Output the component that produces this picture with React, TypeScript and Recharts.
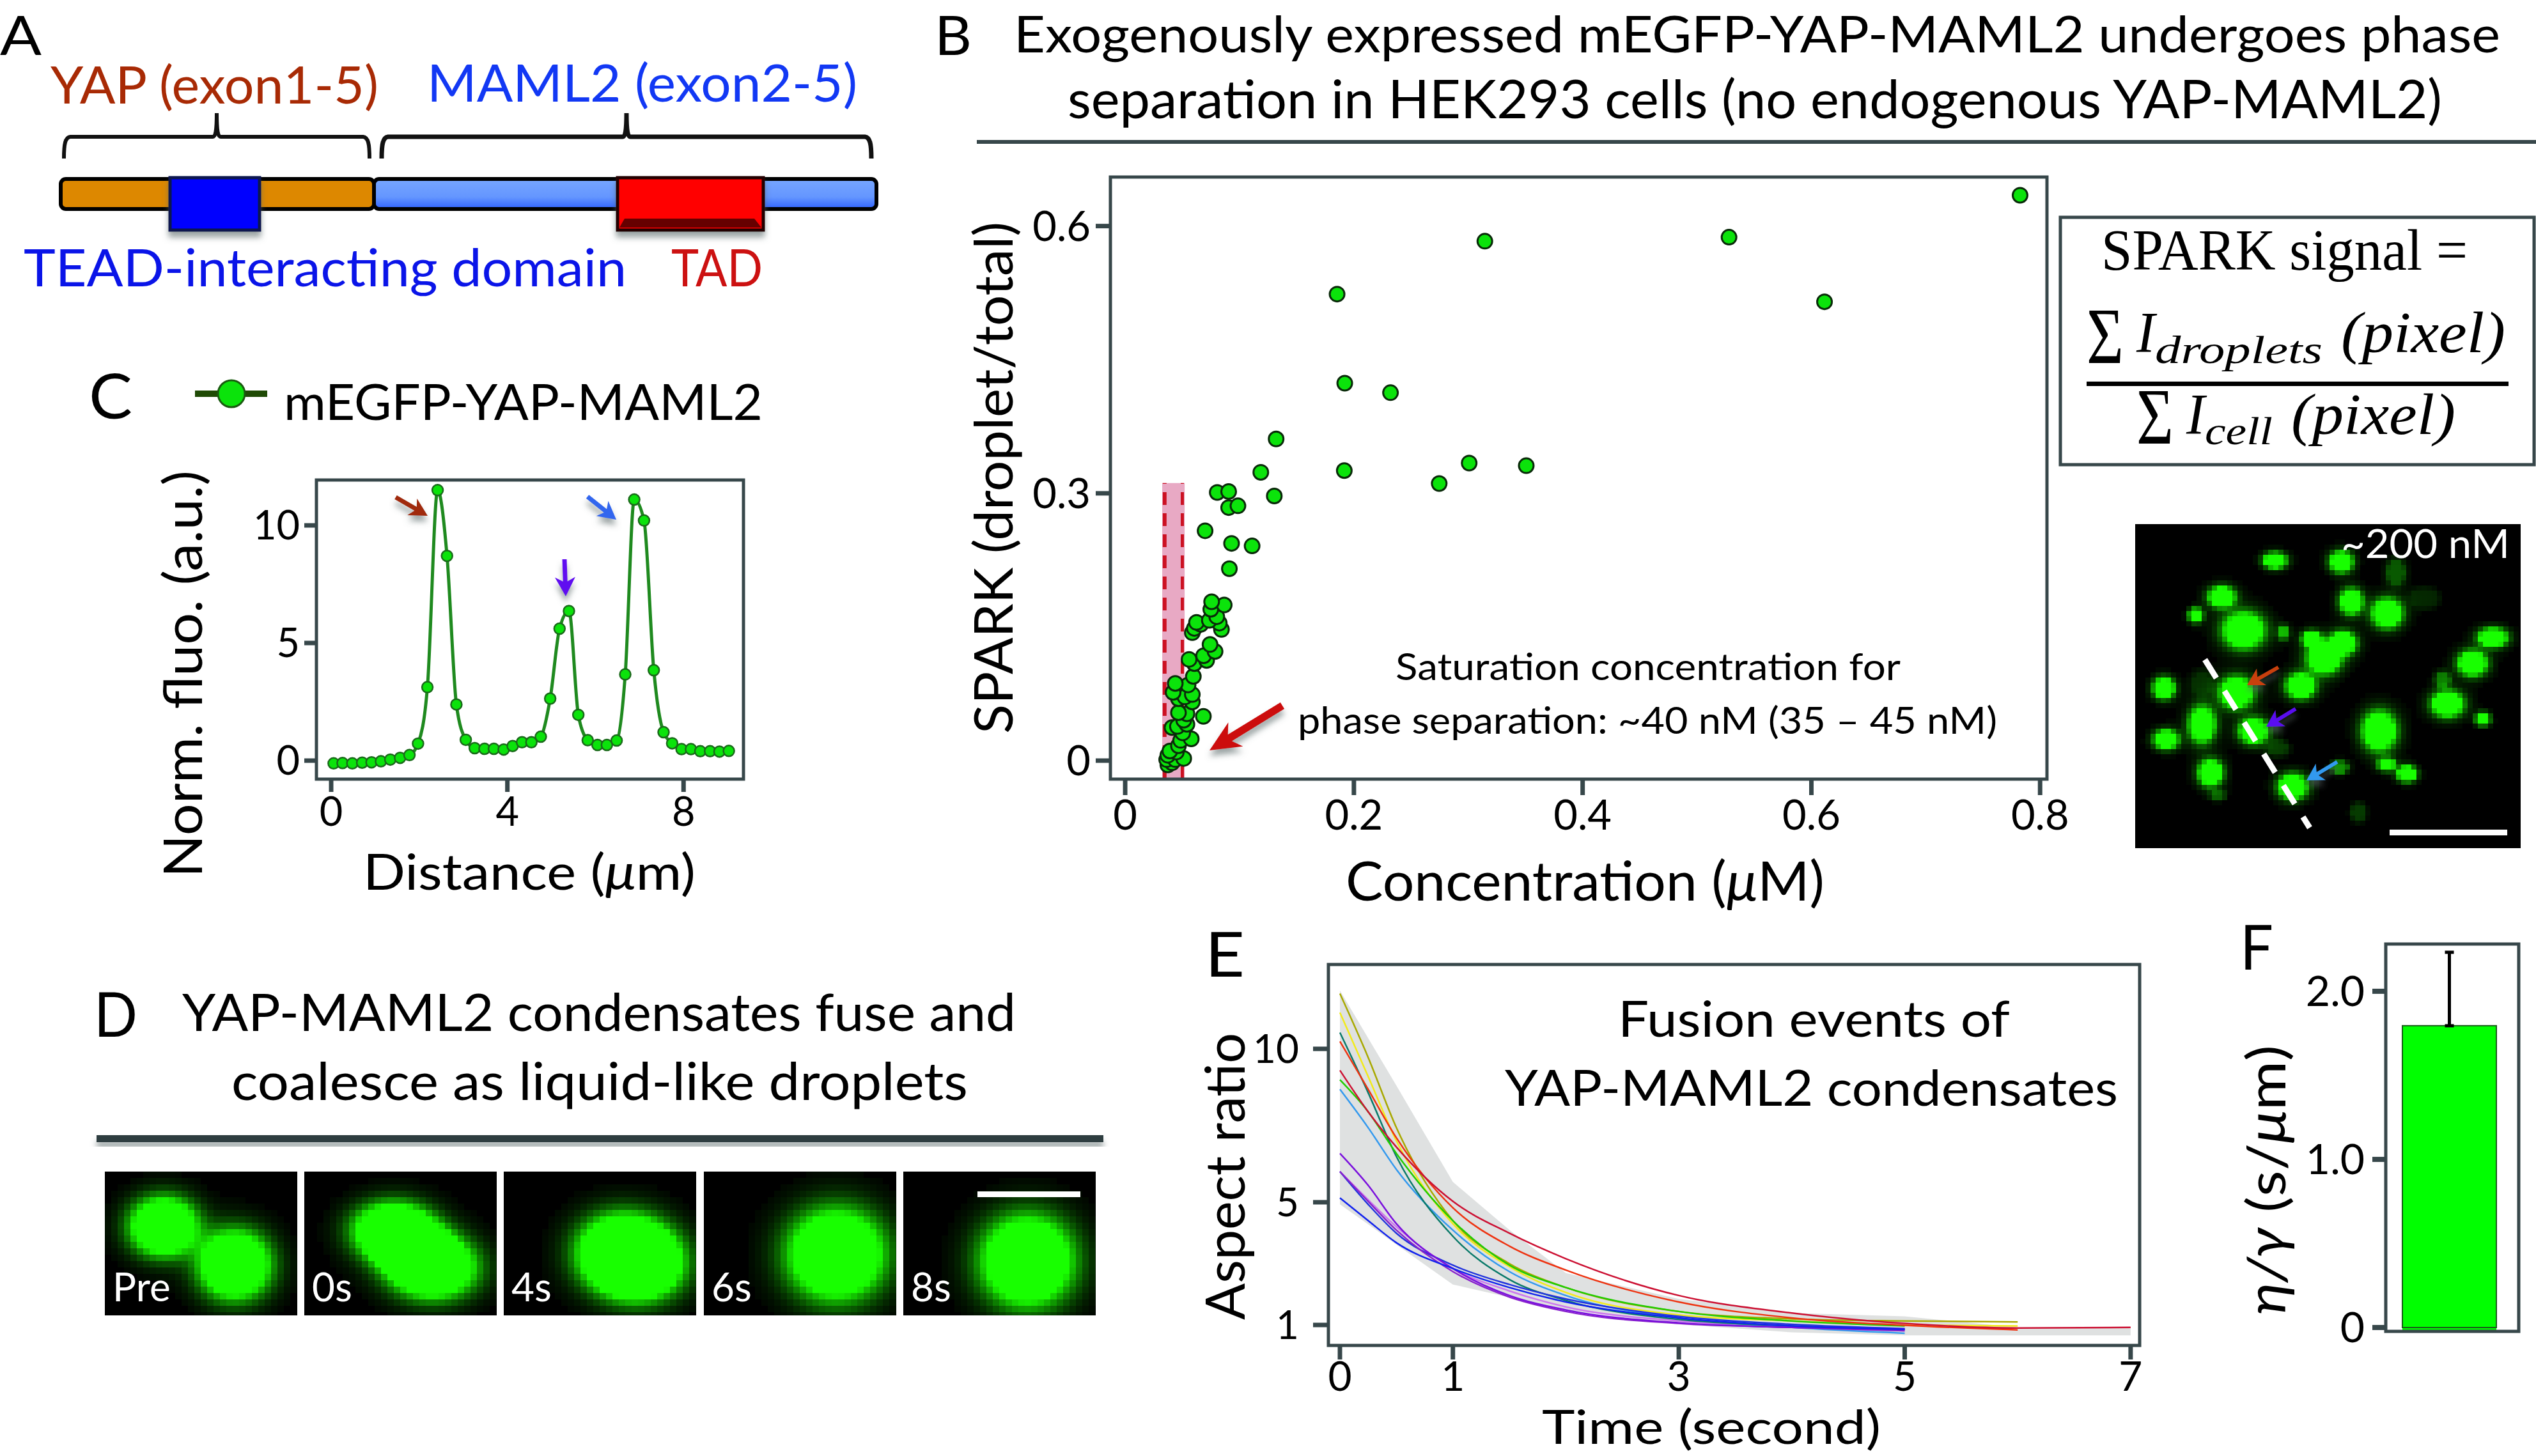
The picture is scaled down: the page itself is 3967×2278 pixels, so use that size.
import React from "react";
import {
  ScatterChart, Scatter, LineChart, Line, ComposedChart, Area, BarChart, Bar, ErrorBar,
  XAxis, YAxis, ReferenceArea, ReferenceLine,
} from "recharts";

// ---- Panel B data
const sparkConc = [0.7825,0.3145,0.528,0.6115,0.1853,0.192,0.232,0.132,0.1186,0.1916,0.1304,0.2746,0.3008,0.3507,0.0805,0.0905,0.0905,0.0986,0.0699,0.093,0.111,0.0911,
  0.0756,0.0866,0.0749,0.0801,0.0736,0.0823,0.0842,0.0624,0.0661,0.0605,0.0587,0.0742,0.0786,0.0686,0.0712,0.0559,0.0605,0.0596,0.055,0.0438,0.0587,0.0419,0.0587,0.0466,0.0522,0.0466,0.054,0.0684,0.0512,0.054,0.041,0.0457,0.0503,0.0578,0.0485,0.0391,0.0447,0.0512,0.0363,0.041,0.0373,0.0438,0.0466,0.0373];
const sparkSignal = [0.6346,0.583,0.5875,0.515,0.5236,0.4236,0.413,0.361,0.3236,0.3255,0.297,0.311,0.334,0.331,0.301,0.302,0.284,0.286,0.258,0.2438,0.241,0.2154,
  0.1783,0.1747,0.1699,0.1615,0.1574,0.1543,0.1472,0.1551,0.153,0.1484,0.1436,0.1304,0.1225,0.1177,0.1125,0.1136,0.1089,0.0945,0.0849,0.0866,0.0742,0.0766,0.0658,0.0694,0.0715,0.0538,0.0526,0.0497,0.0454,0.0407,0.0371,0.0383,0.0311,0.0244,0.0227,0.0108,0.0096,0.0024,0.0012,-0.0024,-0.0048,0.0012,0.0167,0.006];
const sparkXTicks = [0, 0.2, 0.4, 0.6, 0.8];
const sparkYTicks = [0, 0.3, 0.6];
const sparkTable = sparkConc.map((c, i) => ({ c, s: sparkSignal[i] })).sort((a, b) => a.s - b.s);

// ---- Panel C data
const distance = [0.056,0.259,0.481,0.704,0.917,1.13,1.343,1.565,1.778,1.972,2.185,2.417,2.63,2.843,3.056,3.259,3.481,3.694,3.917,4.12,4.333,4.546,4.759,4.972,5.185,5.398,5.611,5.824,6.046,6.259,6.481,6.676,6.88,7.102,7.324,7.546,7.741,7.954,8.167,8.38,8.602,8.815,9.028];
const fluo = [-0.118,-0.103,-0.118,-0.088,-0.074,-0.029,0.044,0.118,0.236,0.722,3.122,11.5,8.704,2.386,0.884,0.53,0.501,0.501,0.471,0.619,0.781,0.781,1.016,2.636,5.611,6.362,1.944,0.869,0.663,0.663,0.854,3.667,11.1,10.21,3.844,1.208,0.736,0.486,0.486,0.398,0.398,0.383,0.412];
const fluoTable = distance.map((d, i) => ({ d, f: fluo[i] }));

// ---- Panel E data
const fusionTime = [0,0.25,0.5,1,1.5,2,3,4,5,6,7];
const bandHigh = [11.9,10.35,8.8,5.66,4.1,2.69,1.85,1.39,1.28,0.92,0.92];
const bandLow = [4.93,4.28,3.62,2.32,1.9,1.49,1.02,0.76,0.66,0.66,0.66];
const curveRed = [9.3,7.95,6.8,5.03,3.99,3.16,1.96,1.39,1.05,0.9,0.92];
const curveOrange = [10.24,8.68,7.1,4.82,3.57,2.79,1.75,1.23,0.99,0.84];
const curveOlive = [11.8,9.72,7.43,4.4,3.0,2.22,1.44,1.2,1.13,1.1];
const curveYellow = [11.18,9.1,7.0,4.3,2.9,2.06,1.33,1.13,0.99,0.97];
const curveTeal = [10.53,8.57,6.49,3.89,2.48,1.8,1.18,0.97,0.86];
const curveGreen = [8.99,7.95,6.59,4.4,2.95,2.22,1.44,1.13,0.97];
const curveSky = [8.68,7.43,6.07,4.09,2.74,1.96,1.23,0.92,0.73];
const curvePink = [6.0,5.08,4.2,2.84,2.11,1.59,1.13,0.92,0.81];
const curvePurple = [6.59,5.55,4.3,2.84,1.96,1.49,1.07,0.92,0.86];
const curveViolet = [6.0,5.03,4.09,2.74,1.91,1.44,1.05,0.92,0.81];
const curveBlue = [5.14,4.4,3.68,2.84,2.22,1.75,1.23,0.97,0.86];
const curveRoyal = [6.0,4.93,3.99,2.95,2.32,1.85,1.28,1.02,0.88];
const fusionSeries: [string, number[], string][] = [
  ["pink", curvePink, "#cc77ee"], ["sky", curveSky, "#3399ee"], ["teal", curveTeal, "#0a7a6a"],
  ["yellow", curveYellow, "#f2ea1a"], ["olive", curveOlive, "#a8a800"], ["green", curveGreen, "#22cc00"],
  ["orange", curveOrange, "#ee3311"], ["red", curveRed, "#cc1133"], ["royal", curveRoyal, "#2233dd"],
  ["violet", curveViolet, "#8822cc"], ["purple", curvePurple, "#7a10dd"], ["blue", curveBlue, "#1122ee"],
];
const fusionTable = fusionTime.map((t, i) => {
  const row: Record<string, unknown> = { t, band: [bandLow[i], bandHigh[i]] };
  fusionSeries.forEach(([n, v]) => { row[n] = v[i]; });
  return row;
});
const fusionXTicks = [0, 1, 3, 5, 7];
const fusionYTicks = [1, 5, 10];

// ---- Panel F data
const ratioTable = [{ name: "YAP-MAML2", mean: 1.795, floor: -0.023, err: [0, 0.437] }];
const ratioTicks = [0, 1, 2];

// ---- Micrograph data: centre x, centre y, radius x, radius y, brightness (image pixels)
const frameNames = ["Pre", "0s", "4s", "6s", "8s"];
const frameLefts = [164, 476, 788, 1101, 1413];
const frameDroplets: number[][][] = [
  [[92,86,46,40,1],[203,146,49,47,1]],
  [[139,92,54,38,1],[201,151,59,42,1],[170,121,48,33,1]],
  [[185,125,59,50,1],[212,145,59,48,1]],
  [[207,130,66,62,1]],
  [[194,140,63,62,1]],
];
const cellDroplets: number[][] = [
  [733,862,30,15,1],[945,865,30,20,1],[563,947,35,20,1],[480,990,18,13,1],[977,958,30,24,1],[1092,985,40,28,1],
  [633,1025,55,35,1],[760,1030,15,13,0.6],[1430,1042,38,18,1],[1365,1102,38,24,1],[890,1090,45,30,1],[850,1045,25,15,0.9],
  [950,1055,35,22,1],[815,1155,38,24,1],[378,1160,28,20,1],[610,1170,45,30,1],[1285,1197,42,25,1],[1398,1232,18,12,1],
  [500,1245,35,35,0.95],[665,1260,38,24,1],[385,1280,32,18,1],[1067,1260,45,38,1],[527,1358,32,25,1],[790,1390,38,24,1],
  [1155,1360,25,15,1],[1090,1338,22,12,0.9],[940,1345,22,12,0.5],[1120,890,25,25,0.3],[1270,1140,20,15,0.4],
  [1000,1450,20,18,0.2],[550,1410,20,10,0.3],[1210,950,40,20,0.13],[740,1300,30,15,0.2],[500,1150,30,25,0.15],
];

const DARK = "#37474a";
const SANS = "Lato";
const SERIF = "Liberation Serif";
const GREEN = "#0be30b";

function T({ x, y, size, len, fill = "#000", rot, family = SANS, italic, children }: any) {
  return (
    <text x={x} y={y} fontSize={size} fill={fill} fontFamily={family} fontStyle={italic ? "italic" : "normal"}
      textLength={len} lengthAdjust="spacingAndGlyphs"
      transform={rot ? `rotate(-90 ${x} ${y})` : undefined}>{children}</text>
  );
}

function Arrow({ tail, tip, color, w = 9, head = 40, spread = 21 }: any) {
  const dx = tip[0] - tail[0], dy = tip[1] - tail[1];
  const L = Math.hypot(dx, dy), ux = dx / L, uy = dy / L, nx = -uy, ny = ux;
  const bx = tip[0] - ux * head, by = tip[1] - uy * head;
  const nbx = tip[0] - ux * head * 0.78, nby = tip[1] - uy * head * 0.78;
  const pts = [
    [tail[0] + nx * w / 2, tail[1] + ny * w / 2], [nbx + nx * w / 2, nby + ny * w / 2],
    [bx + nx * spread, by + ny * spread], tip, [bx - nx * spread, by - ny * spread],
    [nbx - nx * w / 2, nby - ny * w / 2], [tail[0] - nx * w / 2, tail[1] - ny * w / 2],
  ];
  return <polygon points={pts.map((p: number[]) => p.join(",")).join(" ")} fill={color} filter="url(#shade)" />;
}

function Pixels({ left, top, w, h, cell, drops, glow = 0.05 }: any) {
  const rects: React.ReactNode[] = [];
  for (let j = 0; j * cell < h; j++) {
    for (let i = 0; i * cell < w; i++) {
      const px = (i + 0.5) * cell, py = (j + 0.5) * cell;
      let v = 0;
      for (const [cx, cy, rx, ry, a] of drops) {
        const d2 = ((px - cx) / rx) ** 2 + ((py - cy) / ry) ** 2;
        v += a * Math.min(1, 3 * Math.exp(-d2 * 1.1)) + a * glow * Math.exp(-d2 * 0.35);
      }
      v = Math.min(1, v);
      if (v < 0.03) continue;
      rects.push(<rect key={`${i}-${j}`} x={left + i * cell} y={top + j * cell}
        width={Math.min(cell, w - i * cell)} height={Math.min(cell, h - j * cell)}
        fill={`rgb(${Math.round(v * 24)},${Math.round(v * 255)},0)`} />);
    }
  }
  return <g shapeRendering="crispEdges"><rect x={left} y={top} width={w} height={h} fill="#000" />{rects}</g>;
}

const box = (l: number, t: number, w: number, h: number) =>
  ({ position: "absolute" as const, left: l, top: t, width: w, height: h });

export default function App() {
  const cellScaled = cellDroplets.map(([x, y, rx, ry, a]) => [(x - 286) * 0.489, (y - 777) * 0.67, rx * 0.489, ry * 0.67, a]);
  return (
    <div style={{ position: "absolute", left: 0, top: 0, width: 3967, height: 2278, background: "#fff", overflow: "hidden" }}>
      {/* Panel B */}
      <div style={box(1737 - 130, 277, 130 + 1465 + 70, 942 + 110)}>
        <ScatterChart width={130 + 1465 + 70} height={942 + 110} margin={{ top: 0, right: 70, bottom: 0, left: 0 }}>
          <XAxis type="number" dataKey="c" domain={[-0.0129, 0.806]} ticks={sparkXTicks} interval={0} allowDataOverflow
            height={110} axisLine={false} tickLine={{ stroke: DARK, strokeWidth: 7 }} tickSize={25} tickMargin={8}
            tick={{ fontFamily: SANS, fontSize: 65, fill: "#000" }} tickFormatter={(v: number) => (v === 0 ? "0" : v.toFixed(1))} />
          <YAxis type="number" dataKey="s" domain={[-0.0208, 0.655]} ticks={sparkYTicks} interval={0} allowDataOverflow
            width={130} axisLine={false} tickLine={{ stroke: DARK, strokeWidth: 7 }} tickSize={23} tickMargin={8}
            tick={{ fontFamily: SANS, fontSize: 65, fill: "#000" }} tickFormatter={(v: number) => (v === 0 ? "0" : v.toFixed(1))} />
          <Scatter data={sparkTable} isAnimationActive={false} fill={GREEN} stroke="#0a2a0a" strokeWidth={3}
            shape={(p: any) => <circle cx={p.cx} cy={p.cy} r={11.5} fill={GREEN} stroke="#0a2a0a" strokeWidth={3} />} />
          <ReferenceArea x1={0.0324} x2={0.052} y1={-0.0208} y2={0.3115} fill="#e8a9c4" stroke="none" fillOpacity={1}
            style={{ mixBlendMode: "multiply" }} ifOverflow="visible" />
          <ReferenceLine segment={[{ x: 0.0345, y: -0.0208 }, { x: 0.0345, y: 0.3115 }]} stroke="#cc1122" strokeWidth={6} strokeDasharray="20 13" />
          <ReferenceLine segment={[{ x: 0.05, y: -0.0208 }, { x: 0.05, y: 0.3115 }]} stroke="#cc1122" strokeWidth={5} strokeDasharray="20 13" />
        </ScatterChart>
      </div>

      {/* Panel C */}
      <div style={box(395, 751, 100 + 668, 468 + 100)}>
        <LineChart width={768} height={568} data={fluoTable} margin={{ top: 0, right: 0, bottom: 0, left: 0 }}>
          <XAxis type="number" dataKey="d" domain={[-0.334, 9.36]} ticks={[0, 4, 8]} interval={0} allowDataOverflow
            height={100} axisLine={false} tickLine={{ stroke: DARK, strokeWidth: 7 }} tickSize={20} tickMargin={8}
            tick={{ fontFamily: SANS, fontSize: 63, fill: "#000" }} />
          <YAxis type="number" domain={[-0.788, 11.93]} ticks={[0, 5, 10]} interval={0} allowDataOverflow
            width={100} axisLine={false} tickLine={{ stroke: DARK, strokeWidth: 7 }} tickSize={19} tickMargin={7}
            tick={{ fontFamily: SANS, fontSize: 63, fill: "#000" }} />
          <Line type="monotone" dataKey="f" isAnimationActive={false} stroke="#1f8a1f" strokeWidth={5}
            dot={{ r: 8.5, fill: GREEN, stroke: "#1a6a1a", strokeWidth: 2.5 }} />
        </LineChart>
      </div>

      {/* Panel E */}
      <div style={box(2078 - 120, 1509, 120 + 1269 + 40, 596 + 100)}>
        <ComposedChart width={1429} height={696} data={fusionTable} margin={{ top: 0, right: 40, bottom: 0, left: 0 }}>
          <XAxis type="number" dataKey="t" domain={[-0.102, 7.08]} ticks={fusionXTicks} interval={0} allowDataOverflow
            height={100} axisLine={false} tickLine={{ stroke: DARK, strokeWidth: 7 }} tickSize={22} tickMargin={4}
            tick={{ fontFamily: SANS, fontSize: 64, fill: "#000" }} />
          <YAxis type="number" domain={[0.333, 12.75]} ticks={fusionYTicks} interval={0} allowDataOverflow
            width={120} axisLine={false} tickLine={{ stroke: DARK, strokeWidth: 7 }} tickSize={24} tickMargin={22}
            tick={{ fontFamily: SANS, fontSize: 62, fill: "#000" }} />
          <Area dataKey="band" type="linear" isAnimationActive={false} stroke="none" fill="#dfe1e1" fillOpacity={1} dot={false} activeDot={false} />
          {fusionSeries.map(([n, , c]) => (
            <Line key={n} dataKey={n} type="monotone" isAnimationActive={false} stroke={c} strokeWidth={2.5} dot={false} activeDot={false} />
          ))}
        </ComposedChart>
      </div>

      {/* Panel F */}
      <div style={box(3732 - 150, 1477, 150 + 208, 640)}>
        <BarChart width={358} height={640} data={ratioTable} stackOffset="sign" margin={{ top: 0, right: 9, bottom: 34, left: 0 }} barSize={147}>
          <XAxis dataKey="name" hide />
          <YAxis type="number" domain={[-0.023, 2.281]} ticks={ratioTicks} interval={0} allowDataOverflow
            width={150} axisLine={false} tickLine={{ stroke: DARK, strokeWidth: 8 }} tickSize={21} tickMargin={12}
            tick={{ fontFamily: SANS, fontSize: 66, fill: "#000" }} tickFormatter={(v: number) => (v === 0 ? "0" : v.toFixed(1))} />
          <Bar dataKey="floor" stackId="r" fill="#00ff00" isAnimationActive={false} />
          <Bar dataKey="mean" stackId="r" fill="#00ff00" stroke="#1a5a1a" strokeWidth={2} isAnimationActive={false}>
            <ErrorBar dataKey="err" direction="y" width={7} strokeWidth={5} stroke="#000" isAnimationActive={false} />
          </Bar>
        </BarChart>
      </div>

      {/* Frames, schematics, micrographs and text */}
      <svg width={3967} height={2278} style={{ position: "absolute", left: 0, top: 0, pointerEvents: "none" }}>
        <defs>
          <filter id="shade" x="-30%" y="-30%" width="170%" height="190%">
            <feDropShadow dx="0" dy="9" stdDeviation="5" floodColor="#5a6a6a" floodOpacity="0.6" />
          </filter>
          <linearGradient id="maml" x1="0" y1="0" x2="0" y2="1">
            <stop offset="0" stopColor="#77a6ff" /><stop offset="0.6" stopColor="#6496ff" /><stop offset="1" stopColor="#2f62ff" />
          </linearGradient>
        </defs>

        {/* axis frames */}
        <rect x={1737} y={277} width={1465} height={942} fill="none" stroke={DARK} strokeWidth={5} />
        <rect x={495} y={751} width={668} height={468} fill="none" stroke={DARK} strokeWidth={5} />
        <rect x={2078} y={1509} width={1269} height={596} fill="none" stroke={DARK} strokeWidth={5} />
        <rect x={3732} y={1477} width={208} height={606} fill="none" stroke={DARK} strokeWidth={5} />

        {/* Panel A */}
        <T x={0} y={86} size={86} len={65}>A</T>
        <T x={79} y={162} size={82} len={513} fill="#a82a05">YAP (exon1-5)</T>
        <T x={668} y={159} size={82} len={673} fill="#1238f4">MAML2 (exon2-5)</T>
        <path d="M100 248 C100 225 102 215 110 214 L333 214 C337 214 339 205 339 177 C339 205 341 214 345 214 L568 214 C576 215 578 225 578 248" fill="none" stroke="#111" strokeWidth={6} />
        <path d="M597 248 C597 225 599 215 607 214 L974 214 C978 214 980 205 980 177 C980 205 982 214 986 214 L1353 214 C1361 215 1363 225 1363 248" fill="none" stroke="#111" strokeWidth={7} />
        <rect x={95} y={280} width={490} height={47} rx={8} fill="#dd8800" stroke="#000" strokeWidth={6} />
        <rect x={585} y={280} width={786} height={47} rx={8} fill="url(#maml)" stroke="#000" strokeWidth={6} />
        <rect x={266} y={278} width={140} height={82} fill="#0000ff" stroke="#0a1450" strokeWidth={5} filter="url(#shade)" />
        <rect x={966} y={278} width={228} height={82} fill="#ff0000" stroke="#200" strokeWidth={5} filter="url(#shade)" />
        <path d="M969 356 L977 342 L1180 342 L1191 356 Z" fill="#660000" />
        <T x={37} y={448} size={82} len={943} fill="#0a14e8">TEAD-interacting domain</T>
        <T x={1050} y={448} size={82} len={143} fill="#cc1111">TAD</T>

        {/* Panel B text */}
        <T x={1462} y={86} size={86} len={58}>B</T>
        <T x={1586} y={82} size={80} len={2325}>Exogenously expressed mEGFP-YAP-MAML2 undergoes phase</T>
        <T x={1670} y={185} size={84} len={2150}>separation in HEK293 cells (no endogenous YAP-MAML2)</T>
        <rect x={1528} y={219} width={2439} height={6} fill={DARK} />
        <T x={1584} y={1148} size={84} len={801} rot>SPARK (droplet/total)</T>
        <T x={2105} y={1409} size={85} len={749}>Concentration (<tspan fontStyle="italic">μ</tspan>M)</T>
        <T x={2183} y={1064} size={58} len={790}>Saturation concentration for</T>
        <T x={2030} y={1148} size={58} len={1094}>phase separation: ~40 nM (35 – 45 nM)</T>
        <Arrow tail={[2006, 1104]} tip={[1892, 1174]} color="#cc1111" w={12} head={48} spread={22} />

        {/* Formula */}
        <rect x={3223} y={340} width={741} height={387} fill="none" stroke={DARK} strokeWidth={5} />
        <T x={3287} y={422} size={90} len={573} family={SERIF}>SPARK signal =</T>
        <T x={3264} y={568} size={125} len={58} family={SERIF}>Σ</T>
        <T x={3342} y={551} size={90} len={29} family={SERIF} italic>I</T>
        <T x={3371} y={568} size={62} len={262} family={SERIF} italic>droplets</T>
        <T x={3662} y={551} size={90} len={257} family={SERIF} italic>(pixel)</T>
        <rect x={3264} y={597} width={660} height={7} fill="#000" />
        <T x={3342} y={694} size={125} len={58} family={SERIF}>Σ</T>
        <T x={3420} y={679} size={90} len={29} family={SERIF} italic>I</T>
        <T x={3449} y={695} size={62} len={106} family={SERIF} italic>cell</T>
        <T x={3584} y={679} size={90} len={257} family={SERIF} italic>(pixel)</T>

        {/* Cell micrograph */}
        <Pixels left={3340} top={820} w={603} h={507} cell={8} drops={cellScaled} glow={0.16} />
        <T x={3662} y={873} size={62} len={264} fill="#fff">~200 nM</T>
        <rect x={3738} y={1298} width={184} height={9} fill="#fff" />
        <line x1={3449} y1={1032} x2={3613} y2={1295} stroke="#fff" strokeWidth={9} strokeDasharray="34 24" />
        <Arrow tail={[3564, 1044]} tip={[3515, 1072]} color="#c84010" w={6} head={26} spread={15} />
        <Arrow tail={[3591, 1109]} tip={[3545, 1137]} color="#5a10f0" w={6} head={26} spread={15} />
        <Arrow tail={[3656, 1192]} tip={[3608, 1221]} color="#3399ee" w={6} head={26} spread={15} />

        {/* Panel C text */}
        <T x={139} y={655} size={96} len={68}>C</T>
        <line x1={305} y1={616} x2={418} y2={616} stroke="#1f4a05" strokeWidth={10} />
        <circle cx={362} cy={616} r={21} fill={GREEN} stroke="#1a5a10" strokeWidth={3} />
        <T x={444} y={657} size={78} len={749}>mEGFP-YAP-MAML2</T>
        <T x={316} y={1373} size={84} len={637} rot>Norm. fluo. (a.u.)</T>
        <T x={568} y={1392} size={78} len={520}>Distance (<tspan fontStyle="italic">μ</tspan>m)</T>
        <Arrow tail={[619, 778]} tip={[669, 807]} color="#a02a0a" w={7} head={28} spread={15} />
        <Arrow tail={[883, 875]} tip={[885, 933]} color="#6010f0" w={7} head={30} spread={16} />
        <Arrow tail={[919, 777]} tip={[964, 813]} color="#3366ee" w={7} head={28} spread={15} />

        {/* Panel D */}
        <T x={147} y={1622} size={96} len={68}>D</T>
        <T x={285} y={1613} size={82} len={1304}>YAP-MAML2 condensates fuse and</T>
        <T x={362} y={1721} size={82} len={1152}>coalesce as liquid-like droplets</T>
        <rect x={151} y={1776} width={1575} height={11} fill="#2f3d3f" filter="url(#shade)" />
        {frameNames.map((n, k) => (
          <g key={n}>
            <Pixels left={frameLefts[k]} top={1833} w={301} h={225} cell={10} drops={frameDroplets[k]} />
            <T x={frameLefts[k] + 12} y={2036} size={62} fill="#fff">{n}</T>
          </g>
        ))}
        <rect x={1529} y={1864} width={161} height={9} fill="#fff" />

        {/* Panel E text */}
        <T x={1885} y={1528} size={96} len={62}>E</T>
        <T x={1947} y={2065} size={86} len={449} rot>Aspect ratio</T>
        <T x={2412} y={2259} size={74} len={530}>Time (second)</T>
        <T x={2531} y={1622} size={78} len={613}>Fusion events of</T>
        <T x={2354} y={1730} size={78} len={959}>YAP-MAML2 condensates</T>

        {/* Panel F text */}
        <T x={3504} y={1517} size={96} len={52}>F</T>
        <T x={3575} y={2057} size={84} len={422} rot>
          <tspan fontStyle="italic">η/γ</tspan> (s/<tspan fontStyle="italic">μ</tspan>m)
        </T>
      </svg>
    </div>
  );
}
